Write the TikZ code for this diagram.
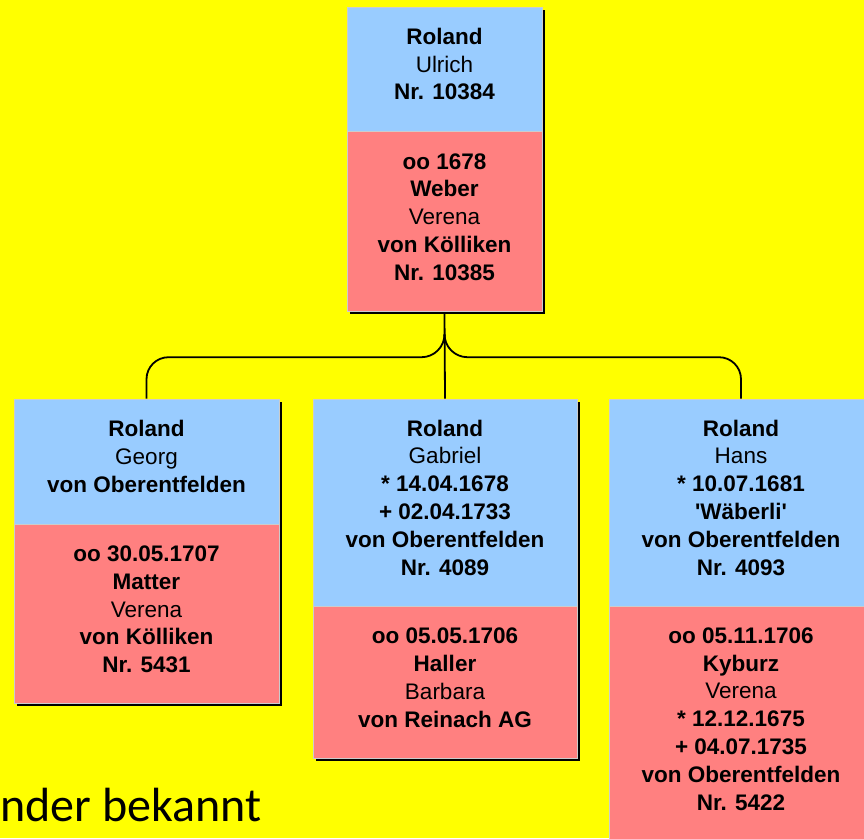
\documentclass[tikz,border=0pt]{standalone}
\usepackage{fontspec}
\setmainfont{Liberation Sans}
\newfontfamily\carlito{Carlito}
\usetikzlibrary{positioning,shadows,calc}
\definecolor{bgyellow}{HTML}{FFFF00}
\definecolor{personblue}{HTML}{99CCFF}
\definecolor{spousered}{HTML}{FF8080}

\begin{document}
\begin{tikzpicture}[x=1pt,y=1pt,node distance=0pt,
  box/.style={draw=white!80!black,line width=0.8pt,align=center,inner sep=2pt,text depth=10pt,
    font=\fontsize{22.5}{27.8}\selectfont,
    drop shadow={shadow xshift=2.5pt,shadow yshift=-2.5pt,fill=black,opacity=1}},
  person/.style={box,fill=personblue},
  spouse/.style={box,fill=spousered},
  family/.style={line width=1.8pt}]

  \path[use as bounding box,fill=bgyellow] (0,0) rectangle (864,-838);
  \clip (0,0) rectangle (864,-838);

  \node[person,minimum width=195pt,minimum height=124pt] (ulrich) at (444.5,-69)
    {\textbf{Roland}\\Ulrich\\\textbf{Nr. 10384}};
  \node[spouse,minimum width=195pt,minimum height=180pt] (weber) [below=of ulrich]
    {\textbf{oo 1678}\\\textbf{Weber}\\Verena\\\textbf{von Kölliken}\\\textbf{Nr. 10385}};

  \node[person,minimum width=265pt,minimum height=125pt] (georg) at (146.5,-461.5)
    {\textbf{Roland}\\Georg\\\textbf{von Oberentfelden}};
  \node[spouse,minimum width=265pt,minimum height=179pt] (matter) [below=of georg]
    {\textbf{oo 30.05.1707}\\\textbf{Matter}\\Verena\\\textbf{von Kölliken}\\\textbf{Nr. 5431}};

  \node[person,minimum width=264pt,minimum height=207pt] (gabriel) at (445,-502.5)
    {\textbf{Roland}\\Gabriel\\\textbf{* 14.04.1678}\\\textbf{+ 02.04.1733}\\\textbf{von Oberentfelden}\\\textbf{Nr. 4089}};
  \node[spouse,minimum width=264pt,minimum height=152pt] (haller) [below=of gabriel]
    {\textbf{oo 05.05.1706}\\\textbf{Haller}\\Barbara\\\textbf{von Reinach AG}};

  \node[person,minimum width=264pt,minimum height=207pt] (hans) at (741,-502.5)
    {\textbf{Roland}\\Hans\\\textbf{* 10.07.1681}\\\textbf{\textquotesingle Wäberli\textquotesingle}\\\textbf{von Oberentfelden}\\\textbf{Nr. 4093}};
  \node[spouse,minimum width=264pt,minimum height=234pt] (kyburz) [below=of hans]
    {\textbf{oo 05.11.1706}\\\textbf{Kyburz}\\Verena\\\textbf{* 12.12.1675}\\\textbf{+ 04.07.1735}\\\textbf{von Oberentfelden}\\\textbf{Nr. 5422}};

  \draw[family] (weber.south) -- (gabriel.north);
  \draw[family] ($(weber.south)+(0,-22)$) arc[start angle=0,end angle=-90,radius=23]
    [rounded corners=22pt] -| (georg.north);
  \draw[family] ($(weber.south)+(0,-22)$) arc[start angle=180,end angle=270,radius=23]
    [rounded corners=22pt] -| (hans.north);

  \node[font=\carlito\fontsize{48}{50}\selectfont,anchor=base west,inner sep=0pt] (note) at (0,-821) {nder bekannt};
\end{tikzpicture}
\end{document}
